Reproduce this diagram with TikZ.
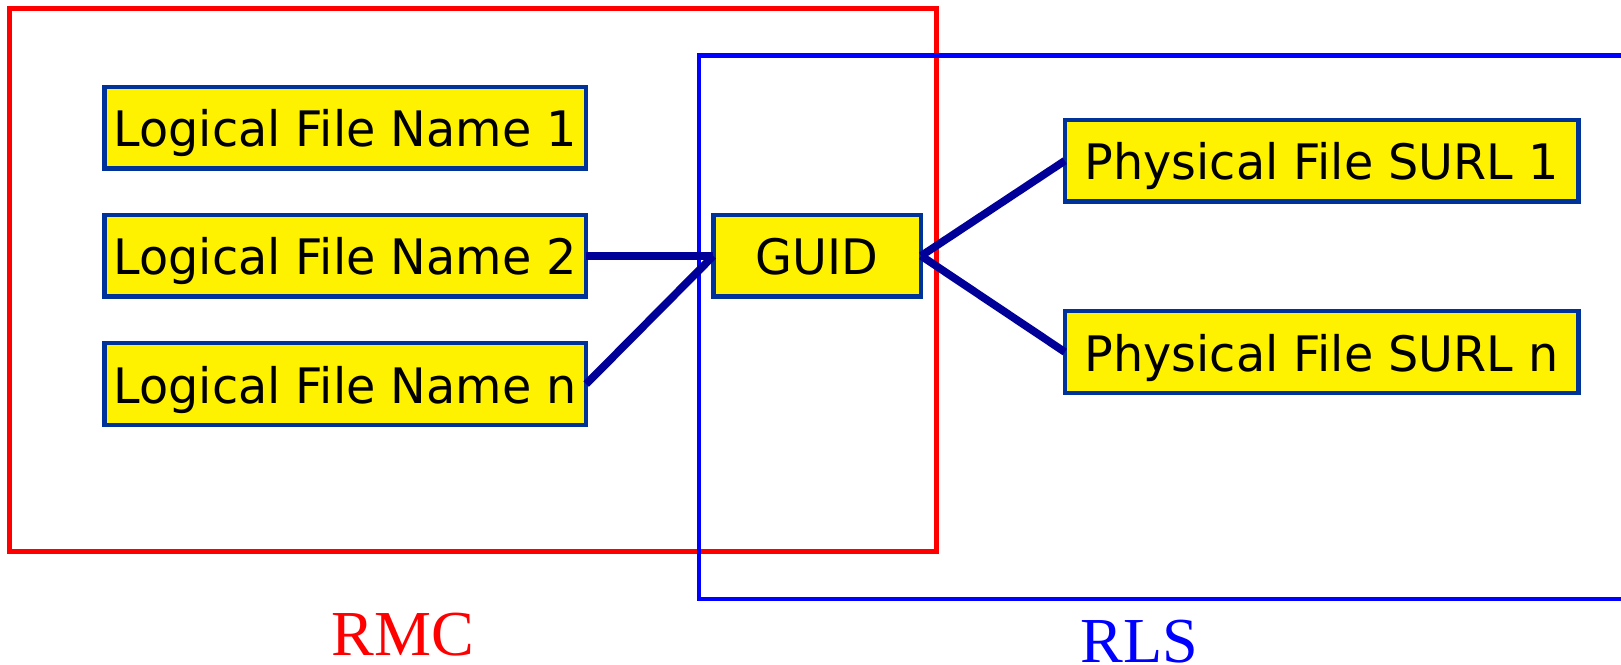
\documentclass[tikz,border=0pt]{standalone}
\usepackage{fontspec}
\setmainfont{Liberation Serif}
\newfontfamily\boxfont[FakeStretch=0.975]{DejaVu Sans}
\begin{document}
\begin{tikzpicture}[x=1pt,y=-1pt,
  lbl/.style={draw=boxblue,fill=yellow,line width=4.3pt,inner sep=0pt,outer sep=0pt,
    font=\boxfont\fontsize{47.3}{54}\selectfont,text height=37pt,text depth=0pt,anchor=north west},
  conn/.style={draw=linkblue,line width=7.5pt},
  frame/.style={line width=4.5pt},
  tag/.style={font=\fontsize{62}{70}\selectfont,anchor=base,text height=42pt,text depth=0pt,inner sep=0pt}]
\definecolor{boxblue}{HTML}{003399}
\definecolor{linkblue}{HTML}{000099}
\clip (0,0) rectangle (1568,642.3);
\useasboundingbox (0,0) rectangle (1568,642.3);
\draw[frame,red] (9,8) rectangle (906,533.5);
\draw[frame,blue] (676,54) rectangle (1590,579.5);
\node[lbl,minimum width=466pt,minimum height=79pt] (l1) at (101,84) {Logical File Name 1};
\node[lbl,minimum width=466pt,minimum height=79pt] (l2) at (101,208) {Logical File Name 2};
\node[lbl,minimum width=466pt,minimum height=79pt] (ln) at (101,332) {Logical File Name n};
\node[lbl,minimum width=201pt,minimum height=79pt] (g) at (690,208) {GUID};
\node[lbl,minimum width=497pt,minimum height=79pt] (p1) at (1030,116) {Physical File SURL 1};
\node[lbl,minimum width=497pt,minimum height=79pt] (pn) at (1030,301) {Physical File SURL n};
\draw[conn] (l2.east) -- (g.west);
\draw[conn] (ln.east) -- (g.west);
\draw[conn] (g.east) -- (p1.west);
\draw[conn] (g.east) -- (pn.west);
\node[tag,text=red] (rmc) at (390,634.5) {RMC};
\node[tag,text=blue] (rls) at (1102,641) {RLS};
\end{tikzpicture}
\end{document}
